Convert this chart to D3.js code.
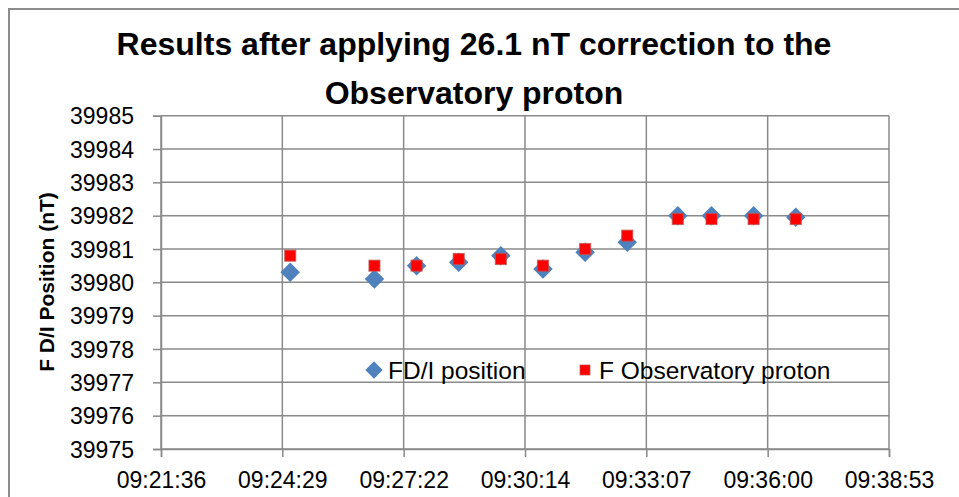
<!DOCTYPE html>
<html>
<head>
<meta charset="utf-8">
<script src="https://cdn.jsdelivr.net/npm/d3@7"></script>
<style>
  html, body { margin: 0; padding: 0; background: #fff; }
  svg { display: block; }
</style>
</head>
<body>
<svg id="chart" width="959" height="497"></svg>
<script>
// ---- data ----
const times = ["09:24:40","09:26:40","09:27:40","09:28:40","09:29:40","09:30:40","09:31:40","09:32:40","09:33:52","09:34:40","09:35:40","09:36:40"];
const fdiValues = [39980.3,39980.1,39980.5,39980.6,39980.8,39980.4,39980.9,39981.2,39982.0,39982.0,39982.0,39981.95];
const protonValues = [39980.8,39980.5,39980.5,39980.7,39980.7,39980.5,39981.0,39981.4,39981.9,39981.9,39981.9,39981.9];
const xTickValues = [0.390,0.392,0.394,0.396,0.398,0.400,0.402];
const xTickLabels = ["09:21:36","09:24:29","09:27:22","09:30:14","09:33:07","09:36:00","09:38:53"];
const yTicks = [39975,39976,39977,39978,39979,39980,39981,39982,39983,39984,39985];
const seriesNames = ["FD/I position","F Observatory proton"];
const titleLines = ["Results after applying 26.1 nT correction to the","Observatory proton"];
const yTitle = "F D/I Position (nT)";

const toDay = s => { const [h,m,sec] = s.split(":").map(Number); return (h*3600+m*60+sec)/86400; };

// ---- layout ----
const svg = d3.select("#chart");
const L = 161, R = 889, T = 115.7, B = 449;
const x = d3.scaleLinear().domain([0.390, 0.402]).range([L, R]);
const y = d3.scaleLinear().domain([39975, 39985]).range([B, T]);
const grid = "#8a8a8a";
const font = "'Liberation Sans', Arial, sans-serif";

// outer chart border
svg.append("rect").attr("x", 9).attr("y", 9).attr("width", 1000).attr("height", 600)
  .attr("fill", "#fff").attr("stroke", "#8c8c8c").attr("stroke-width", 2);

// gridlines
svg.append("g").selectAll("line.h").data(yTicks).join("line")
  .attr("x1", L).attr("x2", R).attr("y1", d => y(d)).attr("y2", d => y(d))
  .attr("stroke", grid).attr("stroke-width", 1.5);
svg.append("g").selectAll("line.v").data(xTickValues).join("line")
  .attr("x1", d => x(d)).attr("x2", d => x(d)).attr("y1", T).attr("y2", B)
  .attr("stroke", grid).attr("stroke-width", 1.5);

// axes
const yAxis = d3.axisLeft(y).tickValues(yTicks).tickSize(8).tickFormat(d3.format("d"));
const gy = svg.append("g").attr("transform", `translate(${L},0)`).call(yAxis);
gy.select(".domain").attr("stroke", grid).attr("stroke-width", 1.5);
gy.selectAll(".tick line").attr("stroke", grid).attr("stroke-width", 1.5);
gy.selectAll(".tick text").attr("x", -27).attr("dy", "0.36em")
  .attr("font-family", font).attr("font-size", 23).attr("fill", "#000");

const xAxis = d3.axisBottom(x).tickValues(xTickValues).tickSize(8)
  .tickFormat((d, i) => xTickLabels[i]);
const gx = svg.append("g").attr("transform", `translate(0,${B})`).call(xAxis);
gx.select(".domain").attr("stroke", grid).attr("stroke-width", 1.5);
gx.selectAll(".tick line").attr("stroke", grid).attr("stroke-width", 1.5);
gx.selectAll(".tick text").attr("y", 0).attr("dy", 39)
  .attr("font-family", font).attr("font-size", 23).attr("fill", "#000");

// series
const diamond = d3.symbol().type(d3.symbolSquare).size(190);
svg.append("g").selectAll("path").data(times).join("path")
  .attr("d", diamond)
  .attr("transform", (d, i) => `translate(${x(toDay(d))},${y(fdiValues[i])}) rotate(45)`)
  .attr("fill", "#4F81BD");
svg.append("g").selectAll("rect").data(times).join("rect")
  .attr("x", d => x(toDay(d)) - 5.5).attr("width", 11).attr("height", 11)
  .attr("y", (d, i) => y(protonValues[i]) - 5.5)
  .attr("fill", "#FF0000").attr("stroke", "#C0504D").attr("stroke-opacity", 0.7).attr("stroke-width", 1.2);

// legend
const ly = 370;
svg.append("path").attr("d", d3.symbol().type(d3.symbolSquare).size(150))
  .attr("transform", `translate(374,${ly}) rotate(45)`).attr("fill", "#4F81BD");
svg.append("text").attr("x", 388).attr("y", ly).attr("dy", "0.36em")
  .attr("font-family", font).attr("font-size", 24.5).text(seriesNames[0]);
svg.append("rect").attr("x", 580).attr("y", ly - 5).attr("width", 10).attr("height", 10)
  .attr("fill", "#FF0000").attr("stroke", "#C0504D").attr("stroke-opacity", 0.7);
svg.append("text").attr("x", 599).attr("y", ly).attr("dy", "0.36em")
  .attr("font-family", font).attr("font-size", 24.5).text(seriesNames[1]);

// titles
svg.append("g").selectAll("text").data(titleLines).join("text")
  .attr("x", 474).attr("y", (d, i) => 55 + i * 49)
  .attr("text-anchor", "middle").attr("font-family", font).attr("font-weight", "bold")
  .attr("font-size", 32).text(d => d);

svg.append("text").attr("transform", `translate(54,282) rotate(-90)`)
  .attr("text-anchor", "middle").attr("font-family", font).attr("font-weight", "bold")
  .attr("font-size", 21).text(yTitle);
</script>
</body>
</html>
